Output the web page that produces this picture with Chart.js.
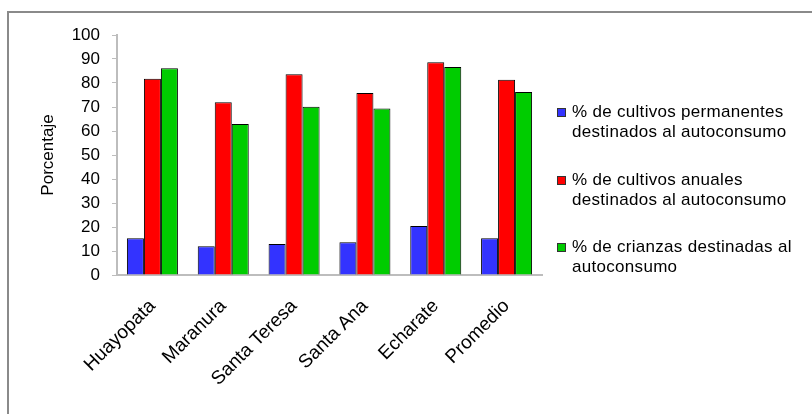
<!DOCTYPE html>
<html>
<head>
<meta charset="utf-8">
<script src="https://cdn.jsdelivr.net/npm/chart.js@4.4.1/dist/chart.umd.min.js"></script>
<style>
    html, body { margin: 0; padding: 0; background: #fff; overflow: hidden; }
    #wrap { position: relative; width: 812px; height: 414px; }
    #frame {
        position: absolute; left: 7px; top: 11px;
        width: 900px; height: 500px;
        border-left: 2px solid #8a8a8a; border-top: 2px solid #8a8a8a;
    }
    canvas { position: absolute; left: 0; top: 0; }
    #legend {
        position: absolute; left: 557px; top: 102px;
        font-family: "Liberation Sans", Arial, sans-serif;
        font-size: 17px; line-height: 20px; letter-spacing: 0.3px; color: #000;
    }
    .item { position: relative; padding-left: 15px; height: 40px; margin-bottom: 27.5px; }
    .box { position: absolute; left: 0; top: 6px; width: 7px; height: 7px; border: 1px solid #333; }
</style>
</head>
<body>
<div id="wrap">
    <div id="frame"></div>
    <canvas id="chart" width="812" height="414"></canvas>
    <div id="legend"></div>
</div>
<script>
// Categories and series
const districts = ['Huayopata', 'Maranura', 'Santa Teresa', 'Santa Ana', 'Echarate', 'Promedio'];
const permanentes = [15.3, 12.0, 12.9, 13.6, 20.4, 15.3];
const anuales = [81.8, 72.0, 83.6, 75.8, 88.6, 81.4];
const crianzas = [86.1, 62.9, 70.1, 69.4, 86.7, 76.2];
const seriesLabels = [
    ['% de cultivos permanentes', 'destinados al autoconsumo'],
    ['% de cultivos anuales', 'destinados al autoconsumo'],
    ['% de crianzas destinadas al', 'autoconsumo']
];
const seriesColors = ['#3333ff', '#ff0000', '#00cc00'];
const yTicks = [0, 10, 20, 30, 40, 50, 60, 70, 80, 90, 100];

const seriesData = [permanentes, anuales, crianzas];
const datasets = seriesData.map((values, i) => ({
    label: seriesLabels[i].join(' '),
    data: values,
    backgroundColor: seriesColors[i],
    borderColor: '#000',
    borderWidth: 1,
    borderSkipped: 'bottom',
    barPercentage: 1,
    categoryPercentage: 0.72
}));

const chart = new Chart(document.getElementById('chart'), {
    type: 'bar',
    data: { labels: districts, datasets: datasets },
    options: {
        responsive: false,
        animation: false,
        layout: { padding: { top: 35, right: 270, left: 0, bottom: 0 } },
        plugins: {
            legend: { display: false },
            tooltip: { enabled: false }
        },
        scales: {
            x: {
                grid: { display: false },
                border: { color: '#bdbdbd', width: 2 },
                ticks: {
                    minRotation: 45,
                    maxRotation: 45,
                    color: '#000',
                    padding: 12,
                    font: { family: 'Liberation Sans', size: 19 }
                },
                afterFit: scale => { scale.height = 139; }
            },
            y: {
                min: 0,
                max: 100,
                afterBuildTicks: scale => { scale.ticks = yTicks.map(v => ({ value: v })); },
                grid: {
                    drawOnChartArea: false,
                    drawTicks: true,
                    tickLength: 5,
                    color: '#bdbdbd'
                },
                border: { color: '#bdbdbd', width: 2 },
                ticks: {
                    color: '#000',
                    padding: 12,
                    font: { family: 'Liberation Sans', size: 17 }
                },
                title: {
                    display: true,
                    text: 'Porcentaje',
                    color: '#000',
                    padding: { top: 38, bottom: 0 },
                    font: { family: 'Liberation Sans', size: 17 }
                },
                afterFit: scale => { scale.width = 117; }
            }
        }
    }
});

// Legend with two-line entries
const legend = document.getElementById('legend');
seriesLabels.forEach((lines, i) => {
    const item = document.createElement('div');
    item.className = 'item';
    item.innerHTML = `<span class="box" style="background:${seriesColors[i]}"></span>${lines.join('<br>')}`;
    legend.appendChild(item);
});
</script>
</body>
</html>
